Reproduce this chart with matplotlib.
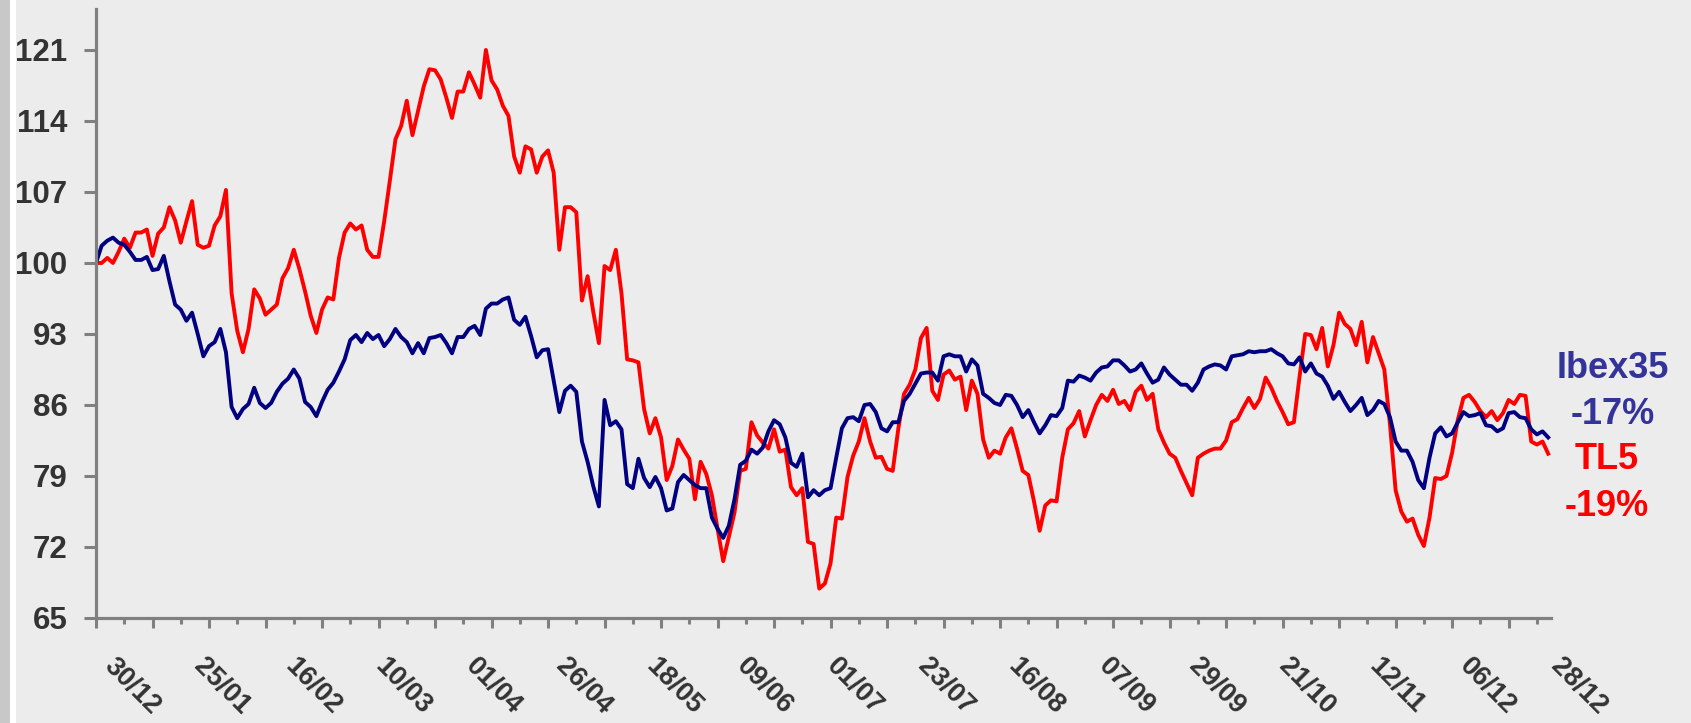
import numpy as np
import matplotlib.pyplot as plt
from matplotlib.patches import Rectangle
from matplotlib.ticker import MultipleLocator

plt.rcParams['font.family'] = ['Liberation Sans', 'DejaVu Sans']

# Base 100 = 30/12, one value per trading session
ibex35 = [
    100, 101.7, 102.2, 102.5, 102.0, 101.8, 101.1, 100.3, 100.3, 100.6,
    99.3, 99.4, 100.7, 98.2, 95.9, 95.4, 94.3, 95.1, 93.0, 90.8,
    91.8, 92.2, 93.5, 91.2, 85.8, 84.7, 85.6, 86.1, 87.7, 86.2,
    85.7, 86.2, 87.3, 88.1, 88.6, 89.5, 88.6, 86.3, 85.8, 84.9,
    86.3, 87.5, 88.2, 89.3, 90.5, 92.4, 92.9, 92.2, 93.1, 92.5,
    92.9, 91.8, 92.5, 93.5, 92.7, 92.2, 91.1, 92.1, 91.1, 92.6,
    92.7, 92.9, 92.1, 91.1, 92.7, 92.7, 93.5, 93.8, 92.9, 95.5,
    96.0, 96.0, 96.4, 96.6, 94.4, 93.9, 94.7, 92.8, 90.7, 91.4,
    91.5, 88.4, 85.3, 87.4, 87.9, 87.3, 82.4, 80.4, 78.0, 76.0,
    86.5, 84.0, 84.4, 83.6, 78.2, 77.8, 80.7, 78.8, 77.9, 78.9,
    77.8, 75.6, 75.8, 78.4, 79.1, 78.6, 78.1, 77.8, 77.8, 74.9,
    73.8, 72.9, 74.1, 76.7, 80.1, 80.5, 81.6, 81.2, 81.8, 83.4,
    84.5, 84.1, 82.8, 80.3, 79.9, 81.2, 76.9, 77.6, 77.1, 77.6,
    77.8, 80.8, 83.7, 84.7, 84.8, 84.4, 86.0, 86.1, 85.3, 83.7,
    83.4, 84.3, 84.3, 86.4, 87.1, 88.1, 89.1, 89.2, 89.2, 88.4,
    90.8, 91.0, 90.8, 90.8, 89.3, 90.5, 89.9, 87.1, 86.7, 86.2,
    86.0, 87.0, 86.9, 86.0, 84.8, 85.5, 84.3, 83.2, 84.0, 85.0,
    84.9, 85.7, 88.4, 88.3, 88.9, 88.7, 88.4, 89.2, 89.7, 89.8,
    90.4, 90.4, 89.9, 89.3, 89.5, 90.1, 89.1, 88.2, 88.5, 89.7,
    89.0, 88.5, 88.0, 88.0, 87.4, 88.2, 89.5, 89.8, 90.0, 89.9,
    89.5, 90.8, 90.9, 91.0, 91.3, 91.2, 91.3, 91.3, 91.5, 91.1,
    90.8, 90.1, 90.0, 90.7, 89.3, 90.1, 89.1, 88.8, 87.9, 86.6,
    87.3, 86.3, 85.4, 86.0, 86.7, 85.0, 85.5, 86.4, 86.1, 84.8,
    82.4, 81.5, 81.5, 80.4, 78.6, 77.8, 80.8, 83.2, 83.8, 82.9,
    83.2, 84.3, 85.3, 84.9, 85.0, 85.2, 84.0, 83.9, 83.4, 83.7,
    85.2, 85.3, 84.8, 84.7, 83.6, 83.1, 83.4, 82.8,
]

tl5 = [
    100, 100, 100.5, 100, 101.1, 102.4, 101.5, 103.0, 103.0, 103.3,
    100.7, 102.9, 103.5, 105.5, 104.2, 102.0, 104.1, 106.1, 101.8, 101.5,
    101.7, 103.7, 104.6, 107.2, 97.0, 93.3, 91.2, 93.5, 97.4, 96.5,
    94.9, 95.4, 95.9, 98.5, 99.5, 101.3, 99.4, 97.2, 94.8, 93.1,
    95.4, 96.6, 96.4, 100.5, 103.0, 103.9, 103.3, 103.7, 101.3, 100.6,
    100.6, 104.1, 108.1, 112.2, 113.5, 116.0, 112.6, 115.0, 117.4, 119.1,
    119.0, 118.1, 116.3, 114.3, 116.9, 116.9, 118.8, 117.6, 116.3, 121.0,
    118.0, 117.1, 115.5, 114.5, 110.5, 108.9, 111.5, 111.2, 108.9, 110.5,
    111.1, 108.9, 101.3, 105.5, 105.5, 105.0, 96.3, 98.7, 95.2, 92.1,
    99.7, 99.3, 101.3, 97.0, 90.5, 90.4, 90.2, 85.6, 83.2, 84.7,
    82.8, 78.6, 80.0, 82.6, 81.6, 80.7, 76.7, 80.4, 79.2, 77.1,
    73.8, 70.6, 73.0, 75.4, 79.5, 79.7, 84.3, 83.0, 82.3, 81.7,
    83.6, 81.4, 81.6, 77.9, 77.1, 77.8, 72.5, 72.3, 67.9, 68.4,
    70.4, 74.9, 74.8, 78.9, 81.0, 82.4, 84.7, 82.4, 80.8, 80.9,
    79.7, 79.5, 83.7, 87.1, 88.0, 89.5, 92.6, 93.6, 87.4, 86.5,
    89.0, 89.4, 88.5, 88.8, 85.5, 88.4, 87.1, 82.6, 80.8, 81.5,
    81.2, 82.8, 83.7, 81.7, 79.5, 79.1, 76.5, 73.6, 76.1, 76.6,
    76.5, 80.8, 83.6, 84.2, 85.4, 82.9, 84.5, 86.0, 87.0, 86.4,
    87.5, 86.1, 86.4, 85.5, 87.3, 87.9, 86.5, 87.1, 83.6, 82.3,
    81.2, 80.8, 79.5, 78.3, 77.1, 80.8, 81.2, 81.5, 81.7, 81.7,
    82.5, 84.3, 84.6, 85.7, 86.7, 85.7, 86.6, 88.7, 87.7, 86.4,
    85.3, 84.1, 84.3, 88.8, 93.0, 92.9, 91.5, 93.6, 89.8, 91.9,
    95.1, 94.0, 93.5, 91.9, 94.2, 90.2, 92.7, 91.1, 89.5, 84.1,
    77.6, 75.5, 74.5, 74.8, 73.2, 72.1, 74.9, 78.8, 78.7, 79.0,
    81.3, 84.5, 86.7, 87.0, 86.3, 85.4, 84.8, 85.4, 84.5, 85.2,
    86.5, 86.1, 87.0, 86.9, 82.4, 82.1, 82.4, 81.2,
]

date_labels = ["30/12", "25/01", "16/02", "10/03", "01/04", "26/04", "18/05",
               "09/06", "01/07", "23/07", "16/08", "07/09", "29/09", "21/10",
               "12/11", "06/12", "28/12"]
label_step = 16
y_ticks = [65, 72, 79, 86, 93, 100, 107, 114, 121]

W, H = 1691, 723
fig = plt.figure(figsize=(W / 100, H / 100), dpi=100, facecolor='#ececec')

# left border strip
fig.patches.append(Rectangle((0, 0), 10 / W, 1, transform=fig.transFigure,
                             facecolor='#c8c8c8', edgecolor='none'))
fig.patches.append(Rectangle((10 / W, 0), 6 / W, 1, transform=fig.transFigure,
                             facecolor='white', edgecolor='none'))

ax = fig.add_axes([96 / W, 105 / H, 1455 / W, 608.6 / H])
ax.set_facecolor('#ececec')

x = np.arange(len(tl5))
ax.plot(x, tl5, color='#ff0000', lw=2.8, solid_joinstyle='round')
ax.plot(np.arange(len(ibex35)), ibex35, color='#000080', lw=2.8,
        solid_joinstyle='round')

ax.set_xlim(0, 257.5)
ax.set_ylim(65, 125)

for s in ['top', 'right']:
    ax.spines[s].set_visible(False)
for s in ['left', 'bottom']:
    ax.spines[s].set_color('#808080')
    ax.spines[s].set_linewidth(2.3)

ax.set_yticks(y_ticks)
ax.set_yticklabels([str(v) for v in y_ticks], fontsize=22.5, fontweight='bold',
                   color='#333333')
ax.tick_params(axis='y', direction='out', length=8.6, width=2.2,
               color='#808080', pad=12)

ax.xaxis.set_major_locator(MultipleLocator(10))
ax.xaxis.set_minor_locator(MultipleLocator(5))
ax.tick_params(axis='x', which='major', direction='out', length=7.2,
               width=2.2, color='#808080', labelbottom=False)
ax.tick_params(axis='x', which='minor', direction='out', length=4.6,
               width=2.2, color='#808080', labelbottom=False)

for k, lab in enumerate(date_labels):
    ax.annotate(lab, xy=(k * label_step, 0),
                xycoords=('data', 'axes fraction'),
                xytext=(15, -25), textcoords='offset points',
                rotation=-45, rotation_mode='anchor', ha='left', va='top',
                fontsize=19.5, fontweight='bold', color='#333333',
                annotation_clip=False)

fig.text(1613 / W, 1 - 368 / H, 'Ibex35', ha='center', va='center',
         fontsize=26, fontweight='bold', color='#333399')
fig.text(1613 / W, 1 - 415 / H, '-17%', ha='center', va='center',
         fontsize=26, fontweight='bold', color='#333399')
fig.text(1607 / W, 1 - 460 / H, 'TL5', ha='center', va='center',
         fontsize=26, fontweight='bold', color='#ff0000')
fig.text(1607 / W, 1 - 507 / H, '-19%', ha='center', va='center',
         fontsize=26, fontweight='bold', color='#ff0000')

fig.savefig('out.png', dpi=100, facecolor=fig.get_facecolor())
